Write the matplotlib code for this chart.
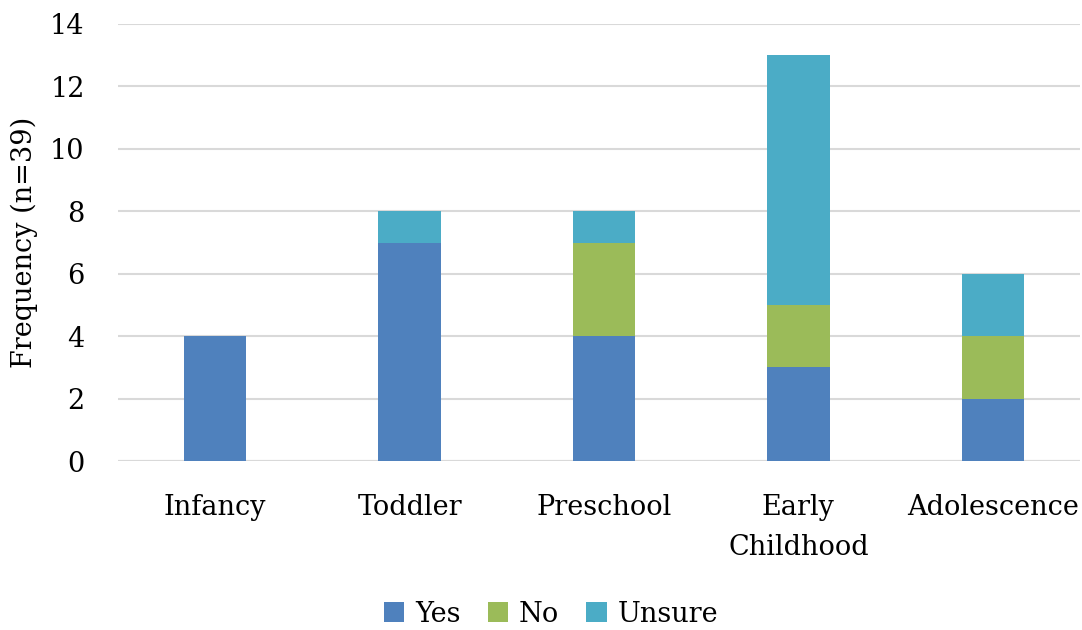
import matplotlib
matplotlib.use("Agg")
import matplotlib.pyplot as plt
from matplotlib.patches import Patch
import numpy as np

categories = ["Infancy", "Toddler", "Preschool", "Early\nChildhood", "Adolescence"]
yes = [4, 7, 4, 3, 2]
no = [0, 0, 3, 2, 2]
unsure = [0, 1, 1, 8, 2]
series_names = ["Yes", "No", "Unsure"]
colors = ["#4F81BD", "#9BBB59", "#4BACC6"]
yticks = [0, 2, 4, 6, 8, 10, 12, 14]

plt.rcParams["font.family"] = ["DejaVu Serif"]

W, H = 1082, 630
FS = 19.5
fig = plt.figure(figsize=(W / 100, H / 100), dpi=100)
left, right, top, bottom = 118, 1080, 24, 461
ax = fig.add_axes([left / W, 1 - bottom / H, (right - left) / W, (bottom - top) / H])

x = np.arange(len(categories))
width = 0.32
base = np.zeros(len(categories))
for vals, name, col in zip([yes, no, unsure], series_names, colors):
    ax.bar(x, vals, width, bottom=base, color=col, label=name, zorder=3)
    base += np.array(vals)

step = (1090 - left) / len(categories)
ax.set_xlim(-0.5, -0.5 + (right - left) / step)
ax.set_ylim(0, 14)
ax.set_yticks(yticks)
ax.set_yticklabels([str(t) for t in yticks], fontsize=FS)
ax.set_xticks(x)
ax.set_xticklabels(categories, fontsize=FS, linespacing=1.6)
ax.tick_params(axis="both", length=0)
ax.tick_params(axis="y", pad=24)
ax.tick_params(axis="x", pad=24)
ax.yaxis.grid(True, color="#D9D9D9", linewidth=1.5, zorder=0)
for s in ax.spines.values():
    s.set_visible(False)
ax.axhline(0, color="#D9D9D9", linewidth=1.5, zorder=2)

ax.set_ylabel("Frequency (n=39)", fontsize=FS, labelpad=9)

handles = [Patch(facecolor=c, label=n) for n, c in zip(series_names, colors)]
fig.legend(handles=handles, loc="center", bbox_to_anchor=(551 / W, 1 - 614 / H),
           ncol=3, frameon=False, fontsize=FS, handlelength=0.75, handleheight=0.75,
           handletextpad=0.4, columnspacing=1.0)

fig.savefig("out.png", dpi=100)
